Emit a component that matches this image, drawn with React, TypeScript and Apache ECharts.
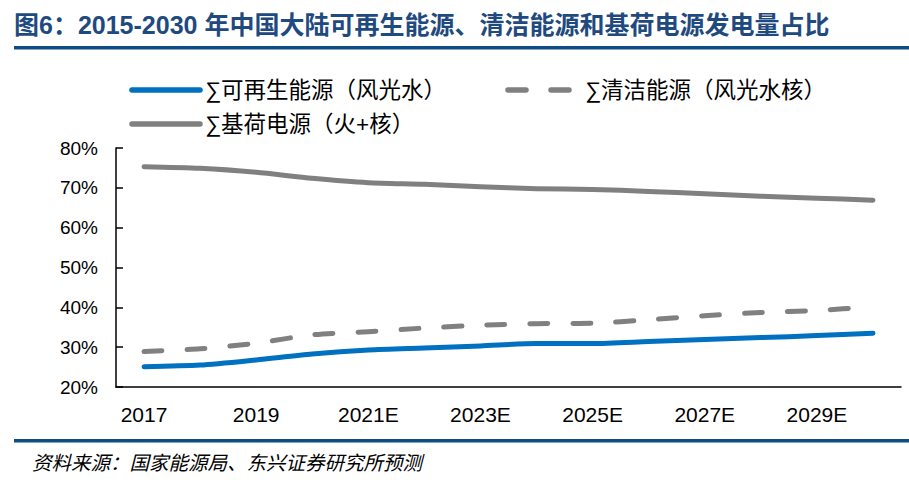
import React, { useEffect, useRef } from "react";
import * as echarts from "echarts";

const categories = ["2017", "2018", "2019", "2020", "2021E", "2022E", "2023E", "2024E", "2025E", "2026E", "2027E", "2028E", "2029E", "2030E"];
const renewable = [25.1, 25.5, 26.8, 28.3, 29.3, 29.8, 30.3, 30.9, 30.9, 31.4, 31.9, 32.4, 32.9, 33.5];
const clean = [28.9, 29.6, 31.0, 33.1, 33.9, 34.8, 35.5, 35.9, 36.0, 36.9, 37.9, 38.7, 39.2, 40.2];
const baseload = [75.3, 74.9, 73.9, 72.4, 71.3, 70.9, 70.3, 69.8, 69.6, 69.1, 68.5, 67.9, 67.4, 66.9];
const seriesNames = ["∑可再生能源（风光水）", "∑清洁能源（风光水核）", "∑基荷电源（火+核）"];
const titleText = "图6：2015-2030 年中国大陆可再生能源、清洁能源和基荷电源发电量占比";
const sourceText = "资料来源：国家能源局、东兴证券研究所预测";

const BLUE = "#0070C0";
const GRAY = "#808080";
const NAVY = "#0E4C85";
const FONT = "'Liberation Sans', Arial, 'Noto Sans CJK SC', sans-serif";

export default function App() {
  const ref = useRef<HTMLDivElement>(null);
  useEffect(() => {
    if (!ref.current) return;
    const chart = echarts.init(ref.current, undefined, { renderer: "svg" });
    chart.setOption({
      animation: false,
      backgroundColor: "#fff",
      grid: { left: 116, right: 8, top: 148, bottom: 97, containLabel: false },
      xAxis: {
        type: "category",
        data: categories,
        boundaryGap: true,
        axisLine: { lineStyle: { color: "#000", width: 1.5 } },
        axisTick: { inside: true, length: 7, interval: 0, lineStyle: { color: "#000", width: 1.5 } },
        axisLabel: { interval: 1, color: "#000", fontSize: 21, fontFamily: FONT, margin: 17 },
      },
      yAxis: {
        type: "value",
        min: 20,
        max: 80,
        interval: 10,
        splitLine: { show: false },
        axisLine: { show: true, lineStyle: { color: "#000", width: 1.5 } },
        axisTick: { show: true, inside: true, length: 7, lineStyle: { color: "#000", width: 1.5 } },
        axisLabel: { color: "#000", fontSize: 19, fontFamily: FONT, margin: 18, formatter: "{value}%" },
      },
      series: [
        {
          name: seriesNames[0], type: "line", data: renewable, smooth: 0.25, symbol: "none",
          lineStyle: { color: BLUE, width: 5, cap: "round", join: "round" },
        },
        {
          name: seriesNames[1], type: "line", data: clean, smooth: 0.25, symbol: "none",
          lineStyle: { color: GRAY, width: 5, type: [18, 25], cap: "round", join: "round" },
        },
        {
          name: seriesNames[2], type: "line", data: baseload, smooth: 0.25, symbol: "none",
          lineStyle: { color: GRAY, width: 5, cap: "round", join: "round" },
        },
      ],
      graphic: [
        {
          type: "text", left: 14, top: 12,
          style: { text: titleText, fontSize: 25, fontWeight: "bold", fill: "#1F4A7F", fontFamily: FONT },
        },
        { type: "rect", shape: { x: 14, y: 46, width: 895, height: 3.5 }, style: { fill: NAVY } },
        { type: "line", shape: { x1: 132, y1: 90, x2: 200, y2: 90 }, style: { stroke: BLUE, lineWidth: 5.5, lineCap: "round" } },
        { type: "text", x: 205, y: 90, style: { text: seriesNames[0], fontSize: 22.5, fill: "#000", fontFamily: FONT, verticalAlign: "middle" } },
        { type: "line", shape: { x1: 508, y1: 90, x2: 572, y2: 90 }, style: { stroke: GRAY, lineWidth: 5.5, lineCap: "round", lineDash: [18, 25] } },
        { type: "text", x: 585, y: 90, style: { text: seriesNames[1], fontSize: 22.5, fill: "#000", fontFamily: FONT, verticalAlign: "middle" } },
        { type: "line", shape: { x1: 132, y1: 124, x2: 200, y2: 124 }, style: { stroke: GRAY, lineWidth: 5.5, lineCap: "round" } },
        { type: "text", x: 205, y: 124, style: { text: seriesNames[2], fontSize: 22.5, fill: "#000", fontFamily: FONT, verticalAlign: "middle" } },
        { type: "rect", shape: { x: 14, y: 439, width: 895, height: 3.5 }, style: { fill: NAVY } },
        {
          type: "text", x: 32, y: 463,
          style: { text: sourceText, fontSize: 19.5, fontStyle: "italic", fill: "#000", fontFamily: FONT, verticalAlign: "middle" },
        },
      ],
    });
    return () => chart.dispose();
  }, []);
  return <div ref={ref} style={{ width: 909, height: 484, position: "absolute", left: 0, top: 0 }} />;
}
